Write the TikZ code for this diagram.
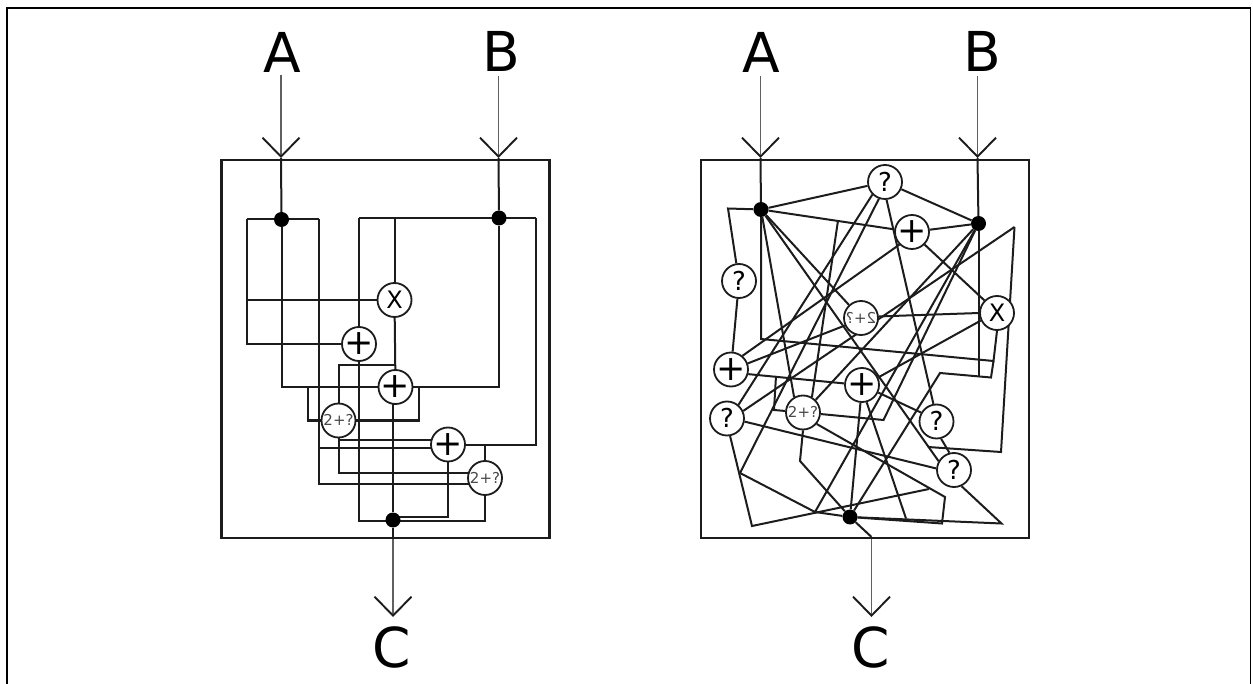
\documentclass[tikz,border=0pt]{standalone}
\usepackage{fontspec}
\usepackage{graphicx}
\setmainfont{DejaVu Sans}
\usetikzlibrary{arrows.meta}
\pgfdeclarelayer{bg}
\pgfsetlayers{bg,main}
\newcommand\symtxt[3]{\fontsize{#1}{#1}\selectfont\smash{\makebox[0pt]{\raisebox{-#2em}{#3}}}}
\definecolor{ink}{RGB}{28,28,28}
\tikzset{
  wire/.style={draw=ink,line width=2pt,line join=miter},
  framebox/.style={draw=ink,line width=2.2pt,minimum width=328pt,minimum height=378pt,inner sep=0pt},
  opnode/.style={circle,draw=ink,fill=white,line width=1.8pt,minimum size=34pt,inner sep=0pt},
  joint/.style={circle,fill=black,minimum size=15pt,inner sep=0pt},
  biglabel/.style={inner sep=0pt,text=black},
  feed/.style={draw=ink!75,line width=1.5pt},
  feedtip/.style={draw=ink!70,line width=1.8pt,-{Straight Barb[length=19pt,width=37pt,line width=1.9pt,color=ink]}},
}
\newcommand\pluss{\symtxt{35}{.313}{+}}
\newcommand\timess{\symtxt{24}{.365}{X}}
\newcommand\quess{\symtxt{26}{.365}{?}}
\newcommand\sumq{\textcolor{ink!80}{\symtxt{15}{.365}{2+?}}}
\newcommand\sumqr{\textcolor{ink!80}{\symtxt{15}{.365}{\reflectbox{2+?}}}}
\begin{document}
\begin{tikzpicture}[x=1pt,y=-1pt]
\useasboundingbox (0,0) rectangle (1253,684);
% outer frame
\coordinate (fa) at (7,684); \coordinate (fb) at (7,8);
\coordinate (fc) at (1250.5,8); \coordinate (fd) at (1250.5,684);
\draw[draw=black,line width=1.3pt] (fa) -- (fb) -- (fc) -- (fd);

% ---------- left panel ----------
\node[framebox] (lbox) at (385.5,349) {};
\node[biglabel,font=\fontsize{55}{55}\selectfont] (lA) at (282.5,52) {A};
\node[biglabel,font=\fontsize{55}{55}\selectfont] (lB) at (501.5,51) {B};
\node[biglabel,font=\fontsize{55}{55}\selectfont] (lC) at (392,647) {C};
\node[joint] (la) at (281.5,219.5) {};
\node[joint] (lb) at (499,218) {};
\node[joint] (lc) at (393,520) {};
\node[opnode] (lx) at (394.5,300) {\timess};
\node[opnode] (lp1) at (359,344) {\pluss};
\node[opnode] (lp2) at (395.5,387) {\pluss};
\node[opnode] (lt1) at (338.5,420.5) {\sumq};
\node[opnode] (lp3) at (448,444.5) {\pluss};
\node[opnode] (lt2) at (485,478) {\sumq};

\coordinate (a0) at (281,75); \coordinate (at) at (281,158);
\coordinate (b0) at (498.5,76); \coordinate (bt) at (498.5,158);
\coordinate (c0) at (393,538); \coordinate (ct) at (393,617);
\coordinate (a1) at (247,219.5); \coordinate (a2) at (318.5,219.5);
\coordinate (a3) at (247,300);
\coordinate (b1) at (359,218); \coordinate (b2) at (535.5,218); \coordinate (b3) at (394.5,218);
\coordinate (c1) at (395.5,365);
\coordinate (d1) at (419,387); \coordinate (d2) at (308,387);
\coordinate (e1) at (318.5,484); \coordinate (e2) at (485,484);
\coordinate (e3) at (318.5,448); \coordinate (e4) at (448,448);
\coordinate (f1) at (485,473); \coordinate (f2) at (338.5,439.5); \coordinate (f3) at (448,439.5);
\coordinate (g1) at (485,444.5);
\coordinate (h1) at (485,521);
\coordinate (i1) at (448,517); \coordinate (i2) at (393,517);

\begin{pgfonlayer}{bg}
\draw[feedtip] (a0) -- (at);
\draw[feedtip] (b0) -- (bt);
\draw[feedtip] (c0) -- (ct);
\draw[wire] (at) -- (la);
\draw[wire] (bt) -- (lb);
\draw[wire] (lc) -- (c0);
\draw[wire] (a1) -- (a2);
\draw[wire] (a1) |- (lp1);
\draw[wire] (a3) -- (lx);
\draw[wire] (la) |- (lp2);
\draw[wire] (b1) -- (b2);
\draw[wire] (b1) -- (lp1);
\draw[wire] (b3) -- (lx);
\draw[wire] (lx) -- (lp2);
\draw[wire] (lc) -- (lc |- lp2);
\draw[wire] (c1) -| (lt1);
\draw[wire] (lb) |- (lp2);
\draw[wire] (d1) |- (lt1);
\draw[wire] (d2) |- (lt1);
\draw[wire] (a2) -- (e1) -- (e2);
\draw[wire] (e3) -- (e4);
\draw[wire] (lt1) |- (f1);
\draw[wire] (f2) -- (f3);
\draw[wire] (b2) |- (lp3);
\draw[wire] (g1) -- (lt2);
\draw[wire] (lp1) |- (h1) -- (lt2);
\draw[wire] (lp3) -- (i1) -- (i2);
\end{pgfonlayer}

% ---------- right panel ----------
\node[framebox] (rbox) at (864.75,349) {};
\node[biglabel,font=\fontsize{55}{55}\selectfont] (rA) at (761,52) {A};
\node[biglabel,font=\fontsize{55}{55}\selectfont] (rB) at (982,51) {B};
\node[biglabel,font=\fontsize{55}{55}\selectfont] (rC) at (871,647) {C};
\node[joint] (rda) at (761,209.5) {};
\node[joint] (rdb) at (978.5,223.5) {};
\node[joint] (rdc) at (850,517) {};
\node[opnode] (rq1) at (885,182) {\quess};
\node[opnode] (rp1) at (912,232) {\pluss};
\node[opnode] (rq2) at (739,281) {\quess};
\node[opnode] (rx) at (997,313) {\timess};
\node[opnode] (rt1) at (861,318) {\sumqr};
\node[opnode] (rp2) at (731,369.5) {\pluss};
\node[opnode] (rq3) at (727,418.5) {\quess};
\node[opnode] (rt2) at (803,412.5) {\sumq};
\node[opnode] (rp3) at (862,385) {\pluss};
\node[opnode] (rq4) at (936.5,421.5) {\quess};
\node[opnode] (rq5) at (954,470) {\quess};

\coordinate (ra0) at (760.5,76); \coordinate (rat) at (760.5,158);
\coordinate (rb0) at (977.5,76); \coordinate (rbt) at (977.5,158);
\coordinate (rct) at (871.5,617);
\coordinate (r1) at (728,208.5);
\coordinate (r2) at (761,339);
\coordinate (r3) at (993.5,361);
\coordinate (r4) at (991,377.5);
\coordinate (r5) at (940,373);
\coordinate (r6) at (978.5,376.5);
\coordinate (r7) at (838,220.5);
\coordinate (r8) at (1014.5,227);
\coordinate (r9) at (1001,452);
\coordinate (r10) at (928,447);
\coordinate (r11) at (740,473);
\coordinate (r12) at (815,512);
\coordinate (r13) at (752,526);
\coordinate (r14) at (929,489);
\coordinate (r15) at (945,497);
\coordinate (r16) at (942,523.5);
\coordinate (r17) at (800,461);
\coordinate (r18) at (883.5,420);
\coordinate (r19) at (776,376);
\coordinate (r20) at (774,410);
\coordinate (r21) at (906,518.5);
\coordinate (r22) at (1001.5,523.5);
\coordinate (r23) at (871.5,537);

\begin{pgfonlayer}{bg}
\draw[feedtip] (ra0) -- (rat);
\draw[feedtip] (rb0) -- (rbt);
\draw[feedtip] (r23) -- (rct);
\draw[wire] (rat) -- (rda);
\draw[wire] (rbt) -- (rdb);
\draw[wire] (rda) -- (rq1);
\draw[wire] (rda) -- (r1) -- (rq2);
\draw[wire] (rq2) -- (rp2);
\draw[wire] (rda) -- (rp1);
\draw[wire] (r7) -- (rt2.60);
\draw[wire] (rda) -- (r2) -- (r3) -- (rx.south);
\draw[wire] (r3) -- (r4) -- (r5) -- (rdc);
\draw[wire] (rdb) -- (r6);
\draw[wire] (rda) -- (rt2.120);
\draw[wire] (rda) -- (rq5.150);
\draw[wire] (rda) -- (rt1);
\draw[wire] (rdb) -- (rq1);
\draw[wire] (rdb) -- (rp1);
\draw[wire] (rdb) -- (r12);
\draw[wire] (rdb) -- (r18) -- (rt2.-5);
\draw[wire] (rdb) -- (rt2.45);
\draw[wire] (rp2.50) -- (rp1.225);
\draw[wire] (rp2.20) -- (rt1.205);
\draw[wire] (rp2.-15) -- (rp3.175);
\draw[wire] (r19) -- (r20) -- (rt2);
\draw[wire] (rq3.50) -- (rq1.225);
\draw[wire] (rq3.25) -- (r8);
\draw[wire] (rq1.250) -- (r11) -- (r12) -- (rdc);
\draw[wire] (rq3.-80) -- (r13) -- (r14);
\draw[wire] (rq3.-10) -- (rq5.175);
\draw[wire] (rt2.-40) -- (r15) -- (r16) -- (rdc);
\draw[wire] (rt2.south) -- (r17) -- (rdc);
\draw[wire] (rp3.265) -- (rdc);
\draw[wire] (rp3.-75) -- (r21);
\draw[wire] (rp3.-25) -- (rq4.150);
\draw[wire] (rp3.25) -- (rx.205);
\draw[wire] (rq1.-85) -- (rq4.100);
\draw[wire] (rp1.-45) -- (rx.135);
\draw[wire] (rt1.5) -- (rx.180);
\draw[wire] (r8) -- (r9) -- (r10);
\draw[wire] (rq4.-75) -- (rq5.105);
\draw[wire] (rq5.-65) -- (r22) -- (rdc);
\draw[wire] (rdc) -- (r23);
\end{pgfonlayer}
\end{tikzpicture}
\end{document}
